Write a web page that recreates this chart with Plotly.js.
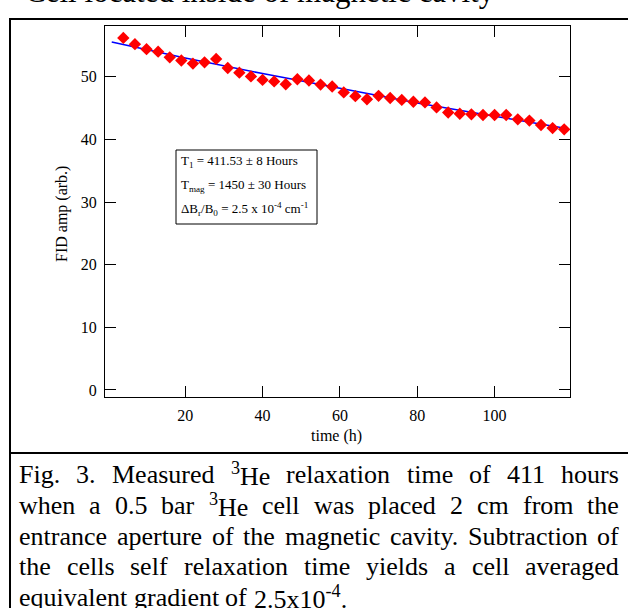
<!DOCTYPE html>
<html><head><meta charset="utf-8">
<script src="https://cdn.plot.ly/plotly-3.0.1.min.js"></script>
<style>html,body{margin:0;padding:0;background:#fff;} #chart{width:628px;height:608px;}</style>
</head><body><div id="chart"></div>
<script>
// ---- data ----
const timeH = [4,7,10,13,16,19,22,25,28,31,34,37,40,43,46,49,52,55,58,61,64,67,70,73,76,79,82,85,88,91,94,97,100,103,106,109,112,115,118];
const fidAmp = [56.2,55.2,54.4,54.0,53.1,52.6,52.1,52.3,52.85,51.4,50.65,50.05,49.5,49.25,48.8,49.6,49.4,48.75,48.45,47.5,46.9,46.4,46.95,46.6,46.3,46.0,45.9,45.1,44.3,44.1,44.0,43.9,43.9,43.9,43.2,43.0,42.3,41.8,41.6];
const fitTime = [1,20,40,60,80,100,119];
const fitAmp = [55.55,53.0,50.5,48.1,45.8,43.7,41.7];
const xTicks = [20,40,60,80,100];
const yTicks = [0,10,20,30,40,50];
const fitInfo = ['T<sub>1</sub> = 411.53 ± 8 Hours','T<sub>mag</sub> = 1450 ± 30 Hours','ΔB<sub>r</sub>/B<sub>0</sub> = 2.5 x 10<sup>-4</sup> cm<sup>-1</sup>'];
const headerText = 'Cell located inside of magnetic cavity';
const captionLines = [
  'Fig. 3. Measured <sup>3</sup>He relaxation time of 411 hours',
  'when a 0.5 bar <sup>3</sup>He cell was placed 2 cm from the',
  'entrance aperture of the magnetic cavity. Subtraction of',
  'the cells self relaxation time yields a cell averaged',
  'equivalent gradient of 2.5x10<sup>-4</sup>.'
];

// ---- layout geometry (pixels) ----
const W = 628, H = 608, L = 105, R = 570, T = 26, B = 397;
const px = x => (x - L) / (R - L);
const py = y => (B - y) / (B - T);
const FONT = 'Liberation Serif';

const cv = document.createElement('canvas').getContext('2d');
function wordWidth(w, size){
  let total = 0;
  w.split(/(<sup>.*?<\/sup>)/).forEach(p => {
    if (!p) return;
    const m = p.match(/^<sup>(.*)<\/sup>$/);
    if (m) { cv.font = (size*0.7) + 'px "' + FONT + '"'; total += cv.measureText(m[1]).width; }
    else { cv.font = size + 'px "' + FONT + '"'; total += cv.measureText(p).width; }
  });
  return total;
}

const annotations = [];
const shapes = [];

// frame
shapes.push({type:'line', xref:'paper', yref:'paper', x0:px(10), x1:px(630), y0:py(19), y1:py(19), line:{color:'#000', width:2}});
shapes.push({type:'line', xref:'paper', yref:'paper', x0:px(10), x1:px(10), y0:py(18), y1:py(612), line:{color:'#000', width:2}});
shapes.push({type:'line', xref:'paper', yref:'paper', x0:px(10), x1:px(630), y0:py(453), y1:py(453), line:{color:'#000', width:2}});

// header (cut at top)
annotations.push({xref:'paper', yref:'paper', x:px(24), y:py(10), xanchor:'left', yanchor:'bottom', text:headerText, showarrow:false, borderpad:0, font:{family:FONT, size:31, color:'#000'}});

// axis titles
annotations.push({xref:'paper', yref:'paper', x:px(62), y:py(214), xanchor:'center', yanchor:'middle', textangle:-90, text:'FID amp (arb.)', showarrow:false, font:{family:FONT, size:16, color:'#000'}});
annotations.push({xref:'paper', yref:'paper', x:px(336), y:py(436), xanchor:'center', yanchor:'middle', text:'time (h)', showarrow:false, font:{family:FONT, size:16, color:'#000'}});

// fit info box
shapes.push({type:'rect', xref:'paper', yref:'paper', x0:px(176), x1:px(317), y0:py(150), y1:py(224), line:{color:'#000', width:1}, fillcolor:'rgba(0,0,0,0)'});
const infoY = [162, 185, 209];
fitInfo.forEach((t,i) => annotations.push({xref:'paper', yref:'paper', x:px(180), y:py(infoY[i]), xanchor:'left', yanchor:'middle', text:t, showarrow:false, borderpad:0, font:{family:FONT, size:13, color:'#000'}}));

// caption, justified word by word
const capSize = 26, capL = 18, capR = 618;
const capY = [475, 505.5, 536, 566.5, 597];
captionLines.forEach((line, i) => {
  const words = line.split(' ');
  const widths = words.map(w => wordWidth(w, capSize));
  const sum = widths.reduce((a,b)=>a+b, 0);
  const last = i === captionLines.length - 1;
  const gap = last ? wordWidth(' ', capSize) : (capR - capL - sum) / (words.length - 1);
  let x = capL;
  words.forEach((w, j) => {
    annotations.push({xref:'paper', yref:'paper', x:px(x), y:py(capY[i]), xanchor:'left', yanchor:'middle', text:w, showarrow:false, borderpad:0, font:{family:FONT, size:capSize, color:'#000'}});
    x += widths[j] + gap;
  });
});

const axisCommon = {
  showgrid:false, zeroline:false, showline:true, linecolor:'#000', linewidth:1,
  mirror:'ticks', ticks:'inside', ticklen:11, tickwidth:1, tickcolor:'#000',
  tickmode:'array', tickfont:{family:FONT, size:16, color:'#000'}, fixedrange:true
};

const traces = [
  {x:fitTime, y:fitAmp, type:'scatter', mode:'lines', line:{color:'#0000ff', width:1.5}, hoverinfo:'skip'},
  {x:timeH, y:fidAmp, type:'scatter', mode:'markers', marker:{symbol:'diamond', size:9.5, color:'#ff0000', line:{width:0}}}
];

const layout = {
  width:W, height:H, showlegend:false,
  paper_bgcolor:'#fff', plot_bgcolor:'#fff',
  margin:{l:L, r:W-R, t:T, b:H-B, pad:0},
  xaxis:Object.assign({}, axisCommon, {range:[-0.74, 119.5], tickvals:xTicks, ticklabelstandoff:4}),
  yaxis:Object.assign({}, axisCommon, {range:[-1.12, 58.1], tickvals:yTicks, ticklabelstandoff:4}),
  shapes:shapes, annotations:annotations
};

Plotly.newPlot('chart', traces, layout, {staticPlot:true, displayModeBar:false});
</script>
</body></html>
